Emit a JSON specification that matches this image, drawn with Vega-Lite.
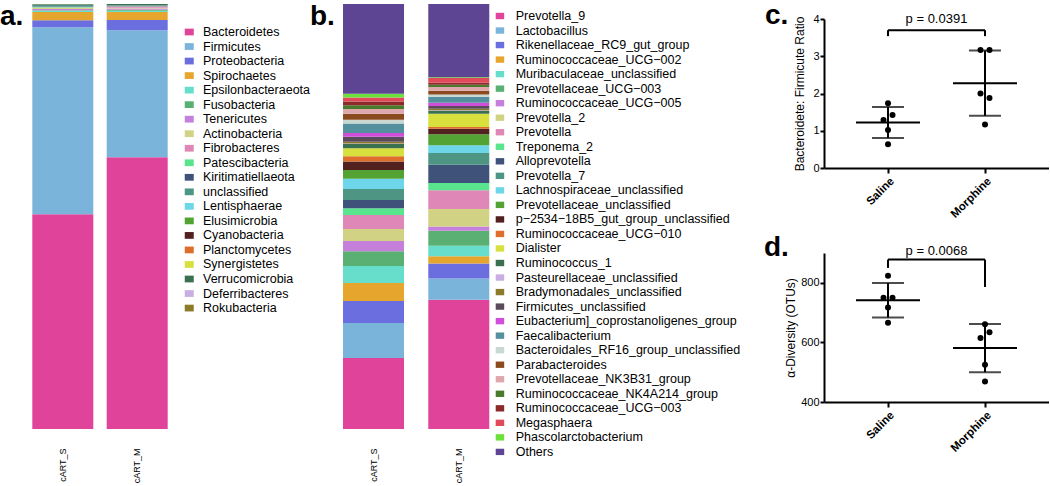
{
  "$schema": "https://vega.github.io/schema/vega-lite/v6.json",
  "padding": {"left": 0, "top": 2, "right": 0, "bottom": 0},
  "background": "white",
  "config": {
    "font": "Liberation Sans",
    "view": {"stroke": null},
    "legend": {"padding": 0, "labelFontSize": 12.5, "labelColor": "black", "labelLimit": 400, "symbolLimit": 40, "symbolStrokeWidth": 0, "symbolOpacity": 1, "rowPadding": 1.53}
  },
  "datasets": {
    "phylum": [
      {"taxon": "Bacteroidetes", "rank": 1, "cART_S": 50.6, "cART_M": 64.0},
      {"taxon": "Firmicutes", "rank": 2, "cART_S": 44.0, "cART_M": 29.9},
      {"taxon": "Proteobacteria", "rank": 3, "cART_S": 1.7, "cART_M": 2.4},
      {"taxon": "Spirochaetes", "rank": 4, "cART_S": 1.9, "cART_M": 1.9},
      {"taxon": "Epsilonbacteraeota", "rank": 5, "cART_S": 0.3, "cART_M": 0.3},
      {"taxon": "Fusobacteria", "rank": 6, "cART_S": 0.15, "cART_M": 0.2},
      {"taxon": "Tenericutes", "rank": 7, "cART_S": 0.3, "cART_M": 0.3},
      {"taxon": "Actinobacteria", "rank": 8, "cART_S": 0.25, "cART_M": 0.2},
      {"taxon": "Fibrobacteres", "rank": 9, "cART_S": 0.1, "cART_M": 0.25},
      {"taxon": "Patescibacteria", "rank": 10, "cART_S": 0.08, "cART_M": 0.1},
      {"taxon": "Kiritimatiellaeota", "rank": 11, "cART_S": 0.12, "cART_M": 0.05},
      {"taxon": "unclassified", "rank": 12, "cART_S": 0.4, "cART_M": 0.1},
      {"taxon": "Lentisphaerae", "rank": 13, "cART_S": 0.05, "cART_M": 0.05},
      {"taxon": "Elusimicrobia", "rank": 14, "cART_S": 0.04, "cART_M": 0.03},
      {"taxon": "Cyanobacteria", "rank": 15, "cART_S": 0.03, "cART_M": 0.02},
      {"taxon": "Planctomycetes", "rank": 16, "cART_S": 0.02, "cART_M": 0.02},
      {"taxon": "Synergistetes", "rank": 17, "cART_S": 0.02, "cART_M": 0.02},
      {"taxon": "Verrucomicrobia", "rank": 18, "cART_S": 0.02, "cART_M": 0.2},
      {"taxon": "Deferribacteres", "rank": 19, "cART_S": 0.01, "cART_M": 0.01},
      {"taxon": "Rokubacteria", "rank": 20, "cART_S": 0.01, "cART_M": 0.01}
    ],
    "genus": [
      {"taxon": "Prevotella_9", "rank": 1, "cART_S": 16.7, "cART_M": 30.4},
      {"taxon": "Lactobacillus", "rank": 2, "cART_S": 8.2, "cART_M": 5.0},
      {"taxon": "Rikenellaceae_RC9_gut_group", "rank": 3, "cART_S": 5.2, "cART_M": 3.5},
      {"taxon": "Ruminococcaceae_UCG−002", "rank": 4, "cART_S": 4.2, "cART_M": 1.7},
      {"taxon": "Muribaculaceae_unclassified", "rank": 5, "cART_S": 4.0, "cART_M": 2.5},
      {"taxon": "Prevotellaceae_UCG−003", "rank": 6, "cART_S": 3.5, "cART_M": 3.5},
      {"taxon": "Ruminococcaceae_UCG−005", "rank": 7, "cART_S": 2.4, "cART_M": 1.0},
      {"taxon": "Prevotella_2", "rank": 8, "cART_S": 2.8, "cART_M": 4.1},
      {"taxon": "Prevotella", "rank": 9, "cART_S": 3.3, "cART_M": 4.4},
      {"taxon": "Treponema_2", "rank": 10, "cART_S": 1.6, "cART_M": 1.7},
      {"taxon": "Alloprevotella", "rank": 11, "cART_S": 1.9, "cART_M": 4.3},
      {"taxon": "Prevotella_7", "rank": 12, "cART_S": 2.6, "cART_M": 2.8},
      {"taxon": "Lachnospiraceae_unclassified", "rank": 13, "cART_S": 2.4, "cART_M": 1.8},
      {"taxon": "Prevotellaceae_unclassified", "rank": 14, "cART_S": 2.1, "cART_M": 2.6},
      {"taxon": "p−2534−18B5_gut_group_unclassified", "rank": 15, "cART_S": 2.0, "cART_M": 1.3},
      {"taxon": "Ruminococcaceae_UCG−010", "rank": 16, "cART_S": 1.2, "cART_M": 0.4},
      {"taxon": "Dialister", "rank": 17, "cART_S": 1.9, "cART_M": 3.1},
      {"taxon": "Ruminococcus_1", "rank": 18, "cART_S": 1.0, "cART_M": 0.7},
      {"taxon": "Pasteurellaceae_unclassified", "rank": 19, "cART_S": 0.1, "cART_M": 0.1},
      {"taxon": "Bradymonadales_unclassified", "rank": 20, "cART_S": 0.4, "cART_M": 0.4},
      {"taxon": "Firmicutes_unclassified", "rank": 21, "cART_S": 1.2, "cART_M": 0.6},
      {"taxon": "Eubacterium]_coprostanoligenes_group", "rank": 22, "cART_S": 0.9, "cART_M": 0.8},
      {"taxon": "Faecalibacterium", "rank": 23, "cART_S": 2.2, "cART_M": 1.4},
      {"taxon": "Bacteroidales_RF16_group_unclassified", "rank": 24, "cART_S": 0.9, "cART_M": 0.5},
      {"taxon": "Parabacteroides", "rank": 25, "cART_S": 1.4, "cART_M": 0.9},
      {"taxon": "Prevotellaceae_NK3B31_group", "rank": 26, "cART_S": 1.1, "cART_M": 0.9},
      {"taxon": "Ruminococcaceae_NK4A214_group", "rank": 27, "cART_S": 0.9, "cART_M": 0.5},
      {"taxon": "Ruminococcaceae_UCG−003", "rank": 28, "cART_S": 0.9, "cART_M": 0.5},
      {"taxon": "Megasphaera", "rank": 29, "cART_S": 0.9, "cART_M": 1.1},
      {"taxon": "Phascolarctobacterium", "rank": 30, "cART_S": 0.9, "cART_M": 0.2},
      {"taxon": "Others", "rank": 31, "cART_S": 21.1, "cART_M": 17.2}
    ],
    "ratio": [
      {"group": "Saline", "ratio": 1.74, "side": 0},
      {"group": "Saline", "ratio": 1.42, "side": 1},
      {"group": "Saline", "ratio": 1.29, "side": -1},
      {"group": "Saline", "ratio": 1.02, "side": 0},
      {"group": "Saline", "ratio": 0.64, "side": 0},
      {"group": "Morphine", "ratio": 3.17, "side": -1},
      {"group": "Morphine", "ratio": 3.17, "side": 1},
      {"group": "Morphine", "ratio": 2.0, "side": -1},
      {"group": "Morphine", "ratio": 1.88, "side": 1},
      {"group": "Morphine", "ratio": 1.17, "side": 0}
    ],
    "diversity": [
      {"group": "Saline", "otus": 824, "side": 0},
      {"group": "Saline", "otus": 750, "side": -1},
      {"group": "Saline", "otus": 750, "side": 1},
      {"group": "Saline", "otus": 717, "side": 0},
      {"group": "Saline", "otus": 666, "side": 0},
      {"group": "Morphine", "otus": 661, "side": 0},
      {"group": "Morphine", "otus": 634, "side": 1},
      {"group": "Morphine", "otus": 615, "side": -1},
      {"group": "Morphine", "otus": 525, "side": 0},
      {"group": "Morphine", "otus": 469, "side": 0}
    ]
  },
  "bounds": "flush",
  "spacing": 164,
  "resolve": {"scale": {"x": "independent", "y": "independent", "color": "independent"}, "legend": {"color": "independent"}, "axis": {"x": "independent", "y": "independent"}},
  "hconcat": [
    {
      "width": 144,
      "height": 425,
      "title": {"text": "a.", "anchor": "start", "frame": "group", "orient": "top", "baseline": "alphabetic", "offset": -28.5, "dx": -28, "dy": 20, "fontSize": 28, "fontWeight": "bold", "color": "black"},
      "data": {"name": "phylum"},
      "transform": [{"fold": ["cART_S", "cART_M"], "as": ["sample", "pct"]}],
      "mark": {"type": "bar", "width": 61},
      "encoding": {
        "x": {"field": "sample", "type": "nominal", "sort": ["cART_S", "cART_M"], "scale": {"type": "band", "paddingInner": 0.184, "paddingOuter": 0.06},
              "axis": {"title": null, "labelAngle": 270, "labelFontSize": 9, "labelPadding": 19, "ticks": false, "tickSize": 0, "domain": false, "labelColor": "black"}},
        "y": {"field": "pct", "type": "quantitative", "stack": "normalize", "axis": null},
        "order": {"field": "rank", "type": "quantitative", "sort": "ascending"},
        "color": {"field": "taxon", "type": "nominal",
          "scale": {
            "domain": ["Bacteroidetes", "Firmicutes", "Proteobacteria", "Spirochaetes", "Epsilonbacteraeota", "Fusobacteria", "Tenericutes", "Actinobacteria", "Fibrobacteres", "Patescibacteria", "Kiritimatiellaeota", "unclassified", "Lentisphaerae", "Elusimicrobia", "Cyanobacteria", "Planctomycetes", "Synergistetes", "Verrucomicrobia", "Deferribacteres", "Rokubacteria"],
            "range": ["#E0439A", "#7AB4DA", "#6B6EDE", "#E6A52D", "#67DDCB", "#5AAF73", "#C480DA", "#D2D284", "#DF88B7", "#59E48E", "#3F5279", "#4E9584", "#6DD6E8", "#52A334", "#52201F", "#DE6E2C", "#D7E03C", "#3A7050", "#C8AEE2", "#8C7A2B"]
          },
          "legend": {"title": null, "orient": "none", "legendX": 155, "legendY": 21.75, "symbolType": "M-1,-0.75H1V0.75H-1Z", "symbolSize": 81, "labelOffset": 7.5, "direction": "vertical"}
        }
      }
    },
    {
      "width": 324,
      "height": 425,
      "title": {"text": "b.", "anchor": "start", "frame": "group", "orient": "top", "baseline": "alphabetic", "offset": -28.5, "dx": -26, "dy": 20, "fontSize": 28, "fontWeight": "bold", "color": "black"},
      "data": {"name": "genus"},
      "transform": [{"fold": ["cART_S", "cART_M"], "as": ["sample", "pct"]}],
      "mark": {"type": "bar", "width": 61},
      "encoding": {
        "x": {"field": "sample", "type": "nominal", "sort": ["cART_S", "cART_M"], "scale": {"type": "band", "paddingInner": 0.2, "paddingOuter": 1.23, "align": 0.02},
              "axis": {"title": null, "labelAngle": 270, "labelFontSize": 9, "labelPadding": 19, "ticks": false, "tickSize": 0, "domain": false, "labelColor": "black"}},
        "y": {"field": "pct", "type": "quantitative", "stack": "normalize", "axis": null},
        "order": {"field": "rank", "type": "quantitative", "sort": "ascending"},
        "color": {"field": "taxon", "type": "nominal",
          "scale": {
            "domain": ["Prevotella_9", "Lactobacillus", "Rikenellaceae_RC9_gut_group", "Ruminococcaceae_UCG−002", "Muribaculaceae_unclassified", "Prevotellaceae_UCG−003", "Ruminococcaceae_UCG−005", "Prevotella_2", "Prevotella", "Treponema_2", "Alloprevotella", "Prevotella_7", "Lachnospiraceae_unclassified", "Prevotellaceae_unclassified", "p−2534−18B5_gut_group_unclassified", "Ruminococcaceae_UCG−010", "Dialister", "Ruminococcus_1", "Pasteurellaceae_unclassified", "Bradymonadales_unclassified", "Firmicutes_unclassified", "Eubacterium]_coprostanoligenes_group", "Faecalibacterium", "Bacteroidales_RF16_group_unclassified", "Parabacteroides", "Prevotellaceae_NK3B31_group", "Ruminococcaceae_NK4A214_group", "Ruminococcaceae_UCG−003", "Megasphaera", "Phascolarctobacterium", "Others"],
            "range": ["#E0439A", "#7AB4DA", "#6B6EDE", "#E6A52D", "#67DDCB", "#5AAF73", "#C480DA", "#D2D284", "#DF88B7", "#59E48E", "#3F5279", "#4E9584", "#6DD6E8", "#52A334", "#52201F", "#DE6E2C", "#D7E03C", "#3A7050", "#C8AEE2", "#8C7A2B", "#5C4B5C", "#D04ED9", "#55909F", "#C9D9D1", "#8B4B1F", "#DEA8AD", "#4A7A2B", "#8C2A2B", "#E14A5B", "#6CE03B", "#5E4594"]
          },
          "legend": {"title": null, "orient": "none", "legendX": 157.7, "legendY": 5.75, "symbolType": "M-1,-0.75H1V0.75H-1Z", "symbolSize": 72, "labelOffset": 9.5, "direction": "vertical"}
        }
      }
    },
    {
      "bounds": "flush",
      "spacing": 85,
      "resolve": {"scale": {"x": "independent", "y": "independent"}},
      "vconcat": [
        {
          "width": 225,
          "height": 164,
          "title": {"text": "c.", "anchor": "start", "frame": "group", "orient": "top", "baseline": "alphabetic", "offset": -29, "dx": -59, "dy": 19, "fontSize": 28, "fontWeight": "bold", "color": "black"},
          "resolve": {"scale": {"x": "independent"}},
          "layer": [
            {
              "layer": [
                {
                  "data": {"name": "ratio"},
                  "mark": {"type": "errorbar", "extent": "stdev", "ticks": {"size": 32, "thickness": 2, "color": "black"}, "rule": {"strokeWidth": 2, "color": "black"}},
                  "encoding": {
                    "x": {"field": "group", "type": "nominal", "scale": {"type": "point", "padding": 0.66, "domain": ["Saline", "Morphine"]},
                          "axis": {"title": null, "labelAngle": -45, "labelFontWeight": "bold", "labelFontSize": 11.5, "labelColor": "black", "labelPadding": 2, "domainColor": "black", "domainWidth": 2, "tickColor": "black", "tickWidth": 2, "tickSize": 5}},
                    "y": {"field": "ratio", "type": "quantitative", "scale": {"domain": [0, 4], "range": [164, 15], "nice": false},
                          "axis": {"title": "Bacteroidete: Firmicute Ratio", "values": [0, 1, 2, 3, 4], "grid": false, "domainColor": "black", "domainWidth": 2, "tickColor": "black", "tickWidth": 2, "tickSize": 4, "labelFontSize": 11, "labelColor": "black", "labelPadding": 1, "titleFontSize": 12, "titleFontWeight": "normal", "titleColor": "black", "titlePadding": 6}}
                  }
                },
                {
                  "data": {"name": "ratio"},
                  "mark": {"type": "tick", "size": 64, "thickness": 2, "color": "black", "opacity": 1},
                  "encoding": {
                    "x": {"field": "group", "type": "nominal"},
                    "y": {"aggregate": "mean", "field": "ratio", "type": "quantitative", "title": "Bacteroidete: Firmicute Ratio"}
                  }
                },
                {
                  "data": {"name": "ratio"},
                  "mark": {"type": "circle", "size": 36, "color": "black", "opacity": 1},
                  "encoding": {
                    "x": {"field": "group", "type": "nominal"},
                    "xOffset": {"field": "side", "type": "quantitative", "scale": {"domain": [-1, 1], "range": [-4.5, 4.5]}},
                    "y": {"field": "ratio", "type": "quantitative", "title": "Bacteroidete: Firmicute Ratio"}
                  }
                },
                {
                  "data": {"values": [{"group": "Saline", "group2": "Morphine", "ratio": 3.70}]},
                  "mark": {"type": "rule", "strokeWidth": 2, "color": "black"},
                  "encoding": {
                    "x": {"field": "group", "type": "nominal"},
                    "x2": {"field": "group2"},
                    "y": {"field": "ratio", "type": "quantitative", "title": "Bacteroidete: Firmicute Ratio"}
                  }
                },
                {
                  "data": {"values": [{"group": "Saline", "ratio": 3.70, "ratio2": 3.54}, {"group": "Morphine", "ratio": 3.70, "ratio2": 3.54}]},
                  "mark": {"type": "rule", "strokeWidth": 2, "color": "black"},
                  "encoding": {
                    "x": {"field": "group", "type": "nominal"},
                    "y": {"field": "ratio", "type": "quantitative", "title": "Bacteroidete: Firmicute Ratio"},
                    "y2": {"field": "ratio2"}
                  }
                }
              ]
            },
            {
              "data": {"values": [{"label": "p = 0.0391", "ratio": 3.885}]},
              "mark": {"type": "text", "fontSize": 13, "baseline": "alphabetic", "align": "center", "color": "black"},
              "encoding": {
                "x": {"datum": 0.5, "type": "quantitative", "scale": {"domain": [0, 1]}, "axis": null},
                "y": {"field": "ratio", "type": "quantitative", "title": "Bacteroidete: Firmicute Ratio"},
                "text": {"field": "label"}
              }
            }
          ]
        },
        {
          "width": 225,
          "height": 149,
          "title": {"text": "d.", "anchor": "start", "frame": "group", "orient": "top", "baseline": "alphabetic", "offset": -34, "dx": -60, "dy": 5, "fontSize": 28, "fontWeight": "bold", "color": "black"},
          "resolve": {"scale": {"x": "independent"}},
          "layer": [
            {
              "layer": [
                {
                  "data": {"name": "diversity"},
                  "mark": {"type": "errorbar", "extent": "stdev", "ticks": {"size": 32, "thickness": 2, "color": "black"}, "rule": {"strokeWidth": 2, "color": "black"}},
                  "encoding": {
                    "x": {"field": "group", "type": "nominal", "scale": {"type": "point", "padding": 0.66, "domain": ["Saline", "Morphine"]},
                          "axis": {"title": null, "labelAngle": -45, "labelFontWeight": "bold", "labelFontSize": 11.5, "labelColor": "black", "labelPadding": 2, "domainColor": "black", "domainWidth": 2, "tickColor": "black", "tickWidth": 2, "tickSize": 5}},
                    "y": {"field": "otus", "type": "quantitative", "scale": {"domain": [400, 900], "nice": false, "zero": false},
                          "axis": {"title": "α-Diversity (OTUs)", "values": [400, 500, 600, 700, 800, 900], "grid": false, "domainColor": "black", "domainWidth": 2, "tickColor": "black", "tickWidth": 2, "tickSize": 4, "labelFontSize": 11, "labelColor": "black", "labelPadding": 1, "titleFontSize": 12, "titleFontWeight": "normal", "titleColor": "black", "titlePadding": 3}}
                  }
                },
                {
                  "data": {"name": "diversity"},
                  "mark": {"type": "tick", "size": 64, "thickness": 2, "color": "black", "opacity": 1},
                  "encoding": {
                    "x": {"field": "group", "type": "nominal"},
                    "y": {"aggregate": "mean", "field": "otus", "type": "quantitative", "title": "α-Diversity (OTUs)"}
                  }
                },
                {
                  "data": {"name": "diversity"},
                  "mark": {"type": "circle", "size": 36, "color": "black", "opacity": 1},
                  "encoding": {
                    "x": {"field": "group", "type": "nominal"},
                    "xOffset": {"field": "side", "type": "quantitative", "scale": {"domain": [-1, 1], "range": [-4.5, 4.5]}},
                    "y": {"field": "otus", "type": "quantitative", "title": "α-Diversity (OTUs)"}
                  }
                },
                {
                  "data": {"values": [{"group": "Saline", "group2": "Morphine", "otus": 878}]},
                  "mark": {"type": "rule", "strokeWidth": 2, "color": "black"},
                  "encoding": {
                    "x": {"field": "group", "type": "nominal"},
                    "x2": {"field": "group2"},
                    "y": {"field": "otus", "type": "quantitative", "title": "α-Diversity (OTUs)"}
                  }
                },
                {
                  "data": {"values": [{"group": "Saline", "otus": 878, "otus2": 850}, {"group": "Morphine", "otus": 878, "otus2": 786}]},
                  "mark": {"type": "rule", "strokeWidth": 2, "color": "black"},
                  "encoding": {
                    "x": {"field": "group", "type": "nominal"},
                    "y": {"field": "otus", "type": "quantitative", "title": "α-Diversity (OTUs)"},
                    "y2": {"field": "otus2"}
                  }
                }
              ]
            },
            {
              "data": {"values": [{"label": "p = 0.0068", "otus": 892}]},
              "mark": {"type": "text", "fontSize": 13, "baseline": "alphabetic", "align": "center", "color": "black"},
              "encoding": {
                "x": {"datum": 0.5, "type": "quantitative", "scale": {"domain": [0, 1]}, "axis": null},
                "y": {"field": "otus", "type": "quantitative", "title": "α-Diversity (OTUs)"},
                "text": {"field": "label"}
              }
            }
          ]
        }
      ]
    }
  ]
}
